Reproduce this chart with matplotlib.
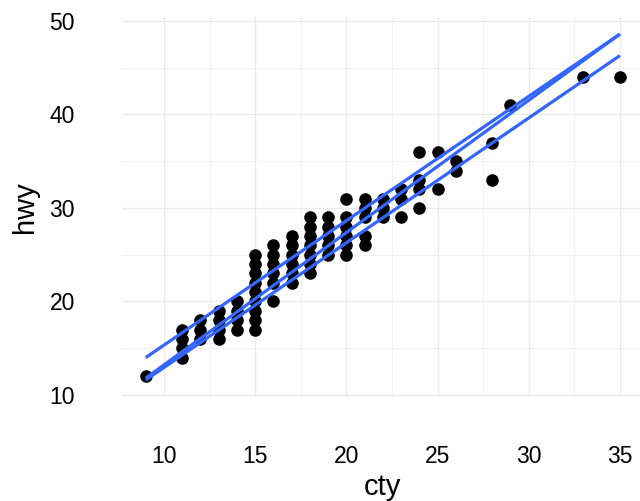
import numpy as np
import matplotlib
matplotlib.use("Agg")
import matplotlib.pyplot as plt
from matplotlib.ticker import MultipleLocator

plt.rcParams['font.family'] = ['Liberation Sans', 'DejaVu Sans']

# unique (cty, hwy) points
cty = [9,
       11, 11, 11, 11,
       12, 12, 12,
       13, 13, 13, 13,
       14, 14, 14, 14,
       15, 15, 15, 15, 15, 15, 15, 15, 15,
       16, 16, 16, 16, 16, 16,
       17, 17, 17, 17, 17, 17,
       18, 18, 18, 18, 18, 18, 18,
       19, 19, 19, 19, 19,
       20, 20, 20, 20, 20, 20,
       21, 21, 21, 21, 21,
       22, 22, 22,
       23, 23, 23,
       24, 24, 24, 24,
       25, 25,
       26, 26,
       28, 28,
       29, 33, 35]
hwy = [12,
       14, 15, 16, 17,
       16, 17, 18,
       16, 17, 18, 19,
       17, 18, 19, 20,
       17, 18, 19, 20, 21, 22, 23, 24, 25,
       20, 22, 23, 24, 25, 26,
       22, 23, 24, 25, 26, 27,
       23, 24, 25, 26, 27, 28, 29,
       25, 26, 27, 28, 29,
       25, 26, 27, 28, 29, 31,
       26, 27, 29, 30, 31,
       29, 30, 31,
       29, 31, 32,
       30, 32, 33, 36,
       32, 36,
       34, 35,
       33, 37,
       41, 44, 44]

# fitted lines (end points)
line_x = [9, 35]
line_y = [[14.0, 48.6],
          [11.8, 48.6],
          [11.6, 46.3]]

fig = plt.figure(figsize=(6.4, 5.01), dpi=100)
ax = fig.add_axes([122 / 640, (501 - 397.3) / 501, 521.6 / 640, 380.5 / 501])

ax.scatter(cty, hwy, s=82, color='black', linewidths=0, zorder=3)
for ys in line_y:
    ax.plot(line_x, ys, color='#3366FF', lw=2.3, zorder=4, solid_capstyle='butt')

ax.set_xlim(7.7, 36.3)
ax.set_ylim(9.75, 50.45)
ax.xaxis.set_major_locator(MultipleLocator(5))
ax.xaxis.set_minor_locator(MultipleLocator(2.5))
ax.yaxis.set_major_locator(MultipleLocator(10))
ax.yaxis.set_minor_locator(MultipleLocator(5))

ax.grid(which='major', color='#EBEBEB', lw=1.0)
ax.grid(which='minor', color='#F2F2F2', lw=0.7)
ax.set_axisbelow(True)
for s in ax.spines.values():
    s.set_visible(False)

ax.tick_params(which='both', length=0, labelsize=16.5, labelcolor='black', pad=34)

ax.set_xlabel('cty', fontsize=21, va='baseline')
ax.set_ylabel('hwy', fontsize=21, va='center', ha='center')
ax.xaxis.set_label_coords(0.5, (397.3 - 495) / 380.5)
ax.yaxis.set_label_coords((25 - 122) / 521.6, 0.5)

fig.savefig('out.png', dpi=100)
